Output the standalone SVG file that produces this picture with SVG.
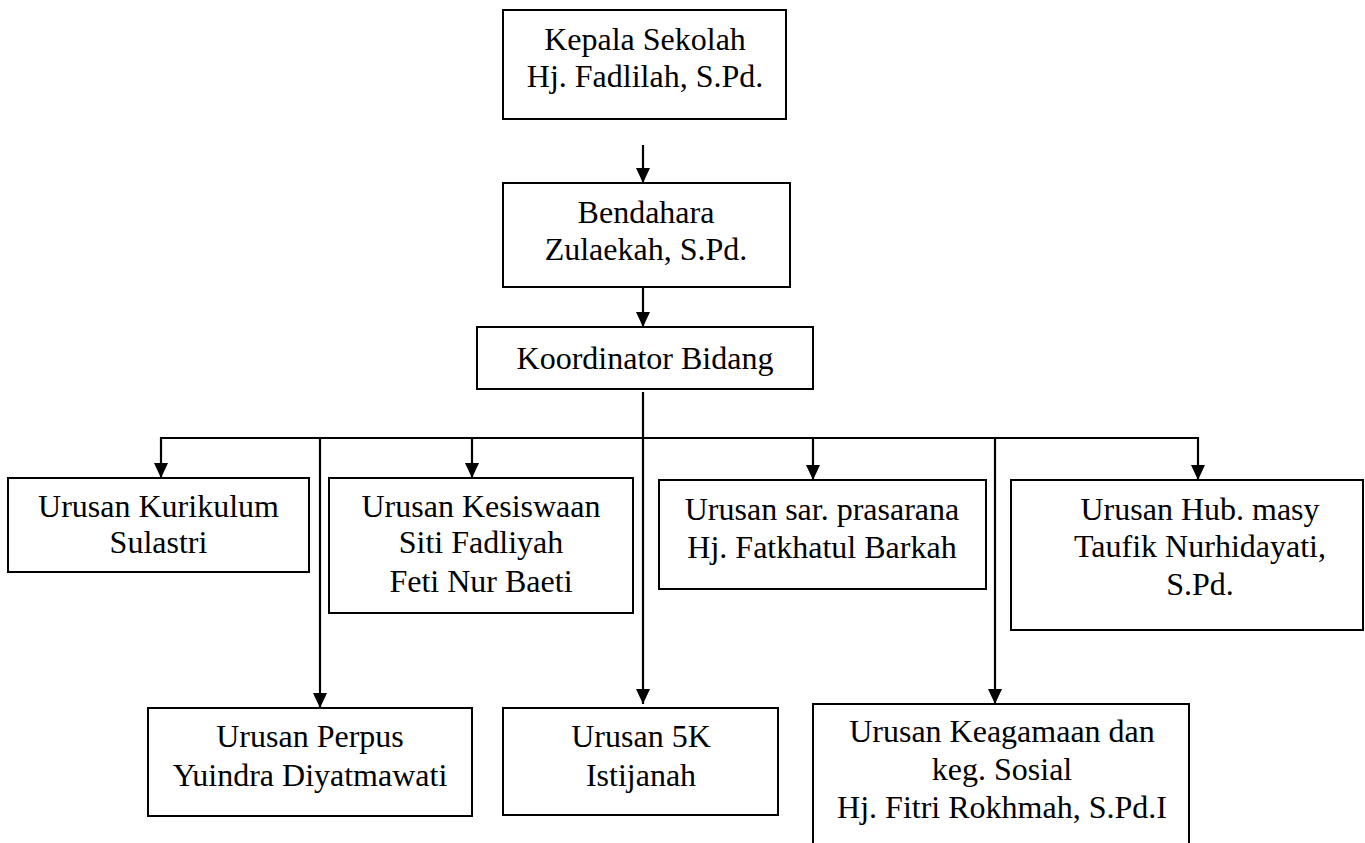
<svg xmlns="http://www.w3.org/2000/svg" width="1365" height="843" viewBox="0 0 1365 843">
<style>
.box{fill:#fff;stroke:#000;stroke-width:2}
.t{font-family:"Liberation Serif","Times New Roman",serif;font-size:32px;fill:#000;text-anchor:middle}
.c{stroke:#000;stroke-width:2.2;fill:none}
</style>
<defs>
<marker id="ah" markerUnits="userSpaceOnUse" markerWidth="15" markerHeight="15" refX="15" refY="7" orient="auto" viewBox="0 0 15 14">
<path d="M0,0 L15,7 L0,14 z" fill="#000"/>
</marker>
</defs>
<rect width="1365" height="843" fill="#fff"/>
<g id="connectors">
<line class="c" x1="643" y1="145" x2="643" y2="183" marker-end="url(#ah)"/>
<line class="c" x1="643" y1="287" x2="643" y2="327" marker-end="url(#ah)"/>
<line class="c" x1="643" y1="392" x2="643" y2="704" marker-end="url(#ah)"/>
<line class="c" x1="160" y1="438" x2="1198" y2="438"/>
<line class="c" x1="161" y1="437" x2="161" y2="478" marker-end="url(#ah)"/>
<line class="c" x1="320" y1="438" x2="320" y2="708" marker-end="url(#ah)"/>
<line class="c" x1="472" y1="437" x2="472" y2="478" marker-end="url(#ah)"/>
<line class="c" x1="813" y1="437" x2="813" y2="480" marker-end="url(#ah)"/>
<line class="c" x1="995" y1="439" x2="995" y2="704" marker-end="url(#ah)"/>
<line class="c" x1="1198" y1="437" x2="1198" y2="480" marker-end="url(#ah)"/>
</g>
<g id="kepala">
<rect class="box" x="503" y="10" width="283" height="109"/>
<text class="t" x="645" y="50">Kepala Sekolah</text>
<text class="t" x="645" y="87">Hj. Fadlilah, S.Pd.</text>
</g>
<g id="bendahara">
<rect class="box" x="503" y="183" width="287" height="104"/>
<text class="t" x="646" y="223">Bendahara</text>
<text class="t" x="646" y="260">Zulaekah, S.Pd.</text>
</g>
<g id="koordinator">
<rect class="box" x="477" y="327" width="336" height="62"/>
<text class="t" x="645" y="369">Koordinator Bidang</text>
</g>
<g id="kurikulum">
<rect class="box" x="8" y="478" width="301" height="94"/>
<text class="t" x="158.5" y="517">Urusan Kurikulum</text>
<text class="t" x="158.5" y="553">Sulastri</text>
</g>
<g id="kesiswaan">
<rect class="box" x="329" y="478" width="304" height="135"/>
<text class="t" x="481" y="517">Urusan Kesiswaan</text>
<text class="t" x="481" y="553">Siti Fadliyah</text>
<text class="t" x="481" y="592">Feti Nur Baeti</text>
</g>
<g id="sarpras">
<rect class="box" x="659" y="480" width="327" height="109"/>
<text class="t" x="822" y="520">Urusan sar. prasarana</text>
<text class="t" x="822" y="558">Hj. Fatkhatul Barkah</text>
</g>
<g id="humas">
<rect class="box" x="1011" y="480" width="352" height="150"/>
<text class="t" x="1200" y="520">Urusan Hub. masy</text>
<text class="t" x="1200" y="557">Taufik Nurhidayati,</text>
<text class="t" x="1200" y="595">S.Pd.</text>
</g>
<g id="perpus">
<rect class="box" x="148" y="708" width="324" height="108"/>
<text class="t" x="310" y="747">Urusan Perpus</text>
<text class="t" x="310" y="786">Yuindra Diyatmawati</text>
</g>
<g id="lima-k">
<rect class="box" x="503" y="708" width="275" height="107"/>
<text class="t" x="641" y="747">Urusan 5K</text>
<text class="t" x="641" y="786">Istijanah</text>
</g>
<g id="keagamaan">
<rect class="box" x="813" y="704" width="376" height="160"/>
<text class="t" x="1002" y="742">Urusan Keagamaan dan</text>
<text class="t" x="1002" y="780">keg. Sosial</text>
<text class="t" x="1002" y="818">Hj. Fitri Rokhmah, S.Pd.I</text>
</g>
</svg>
